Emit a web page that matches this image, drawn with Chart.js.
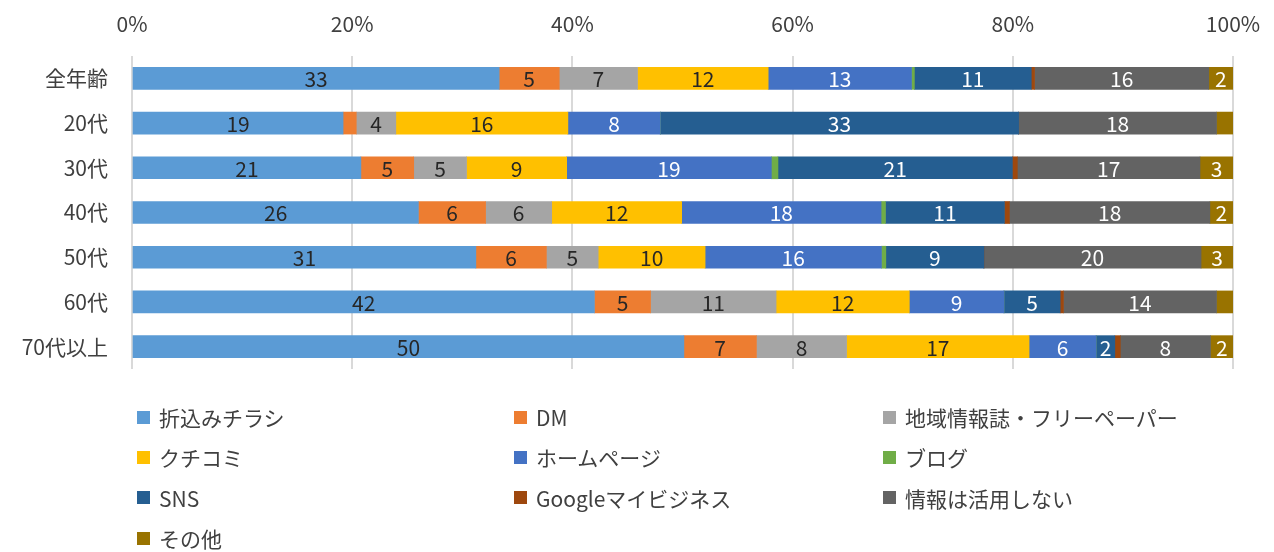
<!DOCTYPE html>
<html>
<head>
<meta charset="utf-8">
<script src="https://cdn.jsdelivr.net/npm/chart.js@4.4.1/dist/chart.umd.min.js"></script>
<style>
  html, body { margin: 0; padding: 0; background: #fff; }
  #wrap { position: relative; width: 1274px; height: 552px; }
  #legend {
    position: absolute; left: 137px; top: 397px;
    display: grid; grid-template-columns: 377px 369px 300px;
    grid-auto-rows: 40.3px;
    font-family: "Noto Sans CJK JP", "Noto Sans", sans-serif;
    font-size: 21px; color: #404040;
  }
  #legend div { display: flex; align-items: center; white-space: nowrap; }
  #legend span.box { width: 13px; height: 13px; margin-right: 9px; flex: none; }
</style>
</head>
<body>
<div id="wrap">
  <canvas id="barChart" width="1274" height="552"></canvas>
  <div id="legend"></div>
</div>
<script>
const categories = ["全年齢", "20代", "30代", "40代", "50代", "60代", "70代以上"];
const seriesNames = ["折込みチラシ", "DM", "地域情報誌・フリーペーパー", "クチコミ", "ホームページ",
    "ブログ", "SNS", "Googleマイビジネス", "情報は活用しない", "その他"];

const flyer    = [33.3, 19.2, 20.8, 26.0, 31.2, 42.0, 50.2];
const dm       = [5.45, 1.2, 4.8, 6.1, 6.4, 5.1, 6.6];
const localMag = [7.1, 3.6, 4.8, 6.0, 4.7, 11.4, 8.2];
const wordOfMouth = [11.85, 15.65, 9.1, 11.8, 9.7, 12.1, 16.6];
const homepage = [13.0, 8.4, 18.6, 18.1, 16.0, 8.6, 6.1];
const blog     = [0.26, 0, 0.6, 0.4, 0.4, 0, 0];
const sns      = [10.6, 32.6, 21.3, 10.8, 8.9, 5.1, 1.7];
const google   = [0.3, 0, 0.45, 0.45, 0, 0.3, 0.5];
const noUse    = [15.8, 18.0, 16.6, 18.2, 19.7, 13.9, 8.2];
const other    = [2.2, 1.5, 3.0, 2.1, 2.9, 1.5, 2.05];

const xTicks = [0, 20, 40, 60, 80, 100];

const seriesValues = [flyer, dm, localMag, wordOfMouth, homepage, blog, sns, google, noUse, other];
const colors = ["#5B9BD5", "#ED7D31", "#A5A5A5", "#FFC000", "#4472C4",
    "#70AD47", "#255E91", "#9E480E", "#636363", "#997300"];
const labelColors = ["#262626", "#262626", "#262626", "#262626", "#ffffff",
    "#ffffff", "#ffffff", "#ffffff", "#ffffff", "#ffffff"];

// 100% stacked: share of each row total
const totals = categories.map((c, i) => seriesValues.reduce((s, arr) => s + arr[i], 0));

const font = "'Noto Sans CJK JP', 'Noto Sans', sans-serif";

const labelPlugin = {
    id: "barLabels",
    afterDatasetsDraw(chart) {
        const ctx = chart.ctx;
        ctx.save();
        ctx.font = "21px " + font;
        ctx.textAlign = "center";
        ctx.textBaseline = "middle";
        chart.data.datasets.forEach((ds, di) => {
            chart.getDatasetMeta(di).data.forEach((bar, i) => {
                const v = ds.raw[i];
                if (v < 1.6) return;
                ctx.fillStyle = labelColors[di];
                ctx.fillText(String(Math.round(v)), (bar.x + bar.base) / 2, bar.y + 1);
            });
        });
        ctx.restore();
    }
};

const ctx = document.getElementById("barChart").getContext("2d");
new Chart(ctx, {
    type: "bar",
    data: {
        labels: categories,
        datasets: seriesNames.map((name, k) => ({
            label: name,
            raw: seriesValues[k],
            data: seriesValues[k].map((v, i) => v / totals[i] * 100),
            backgroundColor: colors[k],
            barThickness: 22,
        })),
    },
    options: {
        indexAxis: "y",
        responsive: false,
        animation: false,
        layout: { padding: { left: 0, right: 41, top: 0, bottom: 183 } },
        plugins: { legend: { display: false }, tooltip: { enabled: false } },
        scales: {
            x: {
                position: "top",
                stacked: true,
                min: 0,
                max: 100,
                afterBuildTicks: (scale) => { scale.ticks = xTicks.map(v => ({ value: v })); },
                afterFit: (scale) => {
                    scale.height = 56;
                    scale.paddingLeft = 0;
                    scale.paddingRight = 0;
                },
                ticks: {
                    callback: (v) => v + "%",
                    font: { family: font, size: 21 },
                    color: "#404040",
                    padding: 19,
                },
                grid: { color: "#d9d9d9", lineWidth: 2, drawTicks: false },
                border: { display: false },
            },
            y: {
                stacked: true,
                afterFit: (scale) => { scale.width = 132; },
                ticks: {
                    font: { family: font, size: 21 },
                    color: "#404040",
                    padding: 24,
                },
                grid: { display: false, drawTicks: false },
                border: { display: false },
            },
        },
    },
    plugins: [labelPlugin],
});

// legend in three columns, row by row
const legend = document.getElementById("legend");
seriesNames.forEach((name, k) => {
    const item = document.createElement("div");
    item.innerHTML = '<span class="box" style="background:' + colors[k] + '"></span>' + name;
    legend.appendChild(item);
});
</script>
</body>
</html>
